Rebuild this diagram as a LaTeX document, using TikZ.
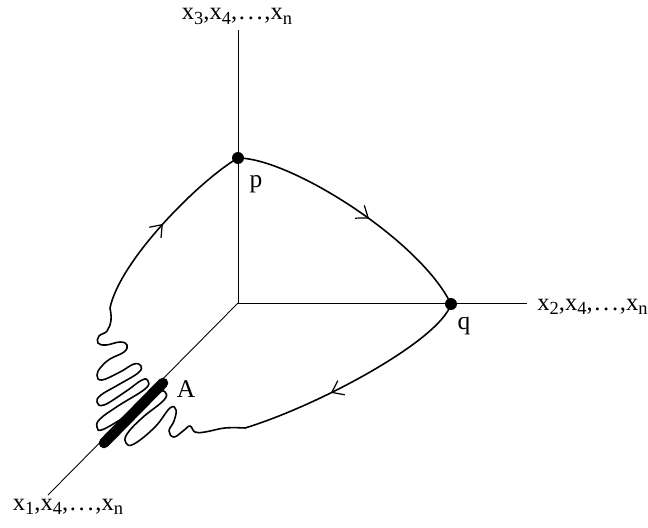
\documentclass[tikz,border=0pt]{standalone}
\usepackage{fontspec}
\setmainfont{Liberation Serif}
\usetikzlibrary{arrows.meta, decorations.markings}

\newcommand{\lo}[1]{\raisebox{-0.4ex}{\fontsize{10.5}{11}\selectfont #1}}
\newcommand{\axlabel}[1]{x\lo{#1},x\lo{4},\kern1pt.\kern1.5pt.\kern1.5pt.\kern1pt,x\lo{n}}

\tikzset{
  axis/.style={line width=0.5pt},
  orbit/.style={line width=0.9pt},
  dot/.style={circle, fill, inner sep=0pt, minimum size=6.8pt},
  lbl/.style={font=\fontsize{14.5}{17}\selectfont, inner sep=0pt},
  axlbl/.style={font=\fontsize{14}{16}\selectfont, inner sep=0pt},
  seg/.style={line width=6pt, line cap=round},
  midarrow/.style={postaction={decorate, decoration={markings,
      mark=at position #1 with {\arrow[line width=0.7pt]{Straight Barb[length=6pt,width=9pt]}}}}},
}

\begin{document}
\begin{tikzpicture}[x=0.02cm, y=-0.02cm]
\useasboundingbox (0,0) rectangle (648,527);

% axes
\coordinate (O) at (238,303);
\coordinate (x3end) at (238,30);
\coordinate (x2end) at (527,303);
\coordinate (x1end) at (48,495);
\draw[axis] (O) -- (x3end);
\draw[axis] (O) -- (x2end);
\draw[axis] (O) -- (x1end);
\node[axlbl, anchor=base] (x3lbl) at (237,20) {\axlabel{3}};
\node[axlbl, anchor=base west] (x2lbl) at (537,310) {\axlabel{2}};
\node[axlbl, anchor=base] (x1lbl) at (68,510) {\axlabel{1}};

% points
\node[dot] (p) at (238,158) {};
\node[dot] (q) at (451,304) {};
\node[lbl] (plbl) at (256,184) {p};
\node[lbl] (qlbl) at (464,326) {q};
\node[lbl] (albl) at (186,389) {A};
\coordinate (w0) at (110,308);
\coordinate (w1) at (245,428);
\coordinate (a1) at (163,383);
\coordinate (a2) at (104,443);

% orbit
\draw[orbit, midarrow=0.5] (w0) .. controls (120,260) and (200,180) .. (p.center);
\draw[orbit, midarrow=0.55] (p.center) .. controls (290,158) and (420,240) .. (q.center);
\draw[orbit, midarrow=0.62] (q.center) .. controls (440,340) and (320,405) .. (w1);
\draw[orbit] plot[smooth, tension=0.7] coordinates {
  (w0) (111,320) (107,331) (99,336) (98,343) (106,345) (120,342)
  (127,345) (124,352) (110,359) (101,367) (97,375)
  (102,380) (120,372) (134,364) (141,366) (138,373)
  (118,385) (101,395) (97,402) (104,405) (125,392) (142,380)
  (148,381) (145,389) (118,406) (100,419) (97,427)
  (104,429) (135,410) (158,393) (165,392) (164,400)
  (142,418) (127,434) (126,443) (134,444) (155,427) (170,408)
  (176,410) (174,421) (169,431) (174,437) (183,431) (190,426)
  (195,432) (205,432) (225,428) (w1)};

% segment A
\draw[seg] (a1) -- (a2);
\end{tikzpicture}
\end{document}
